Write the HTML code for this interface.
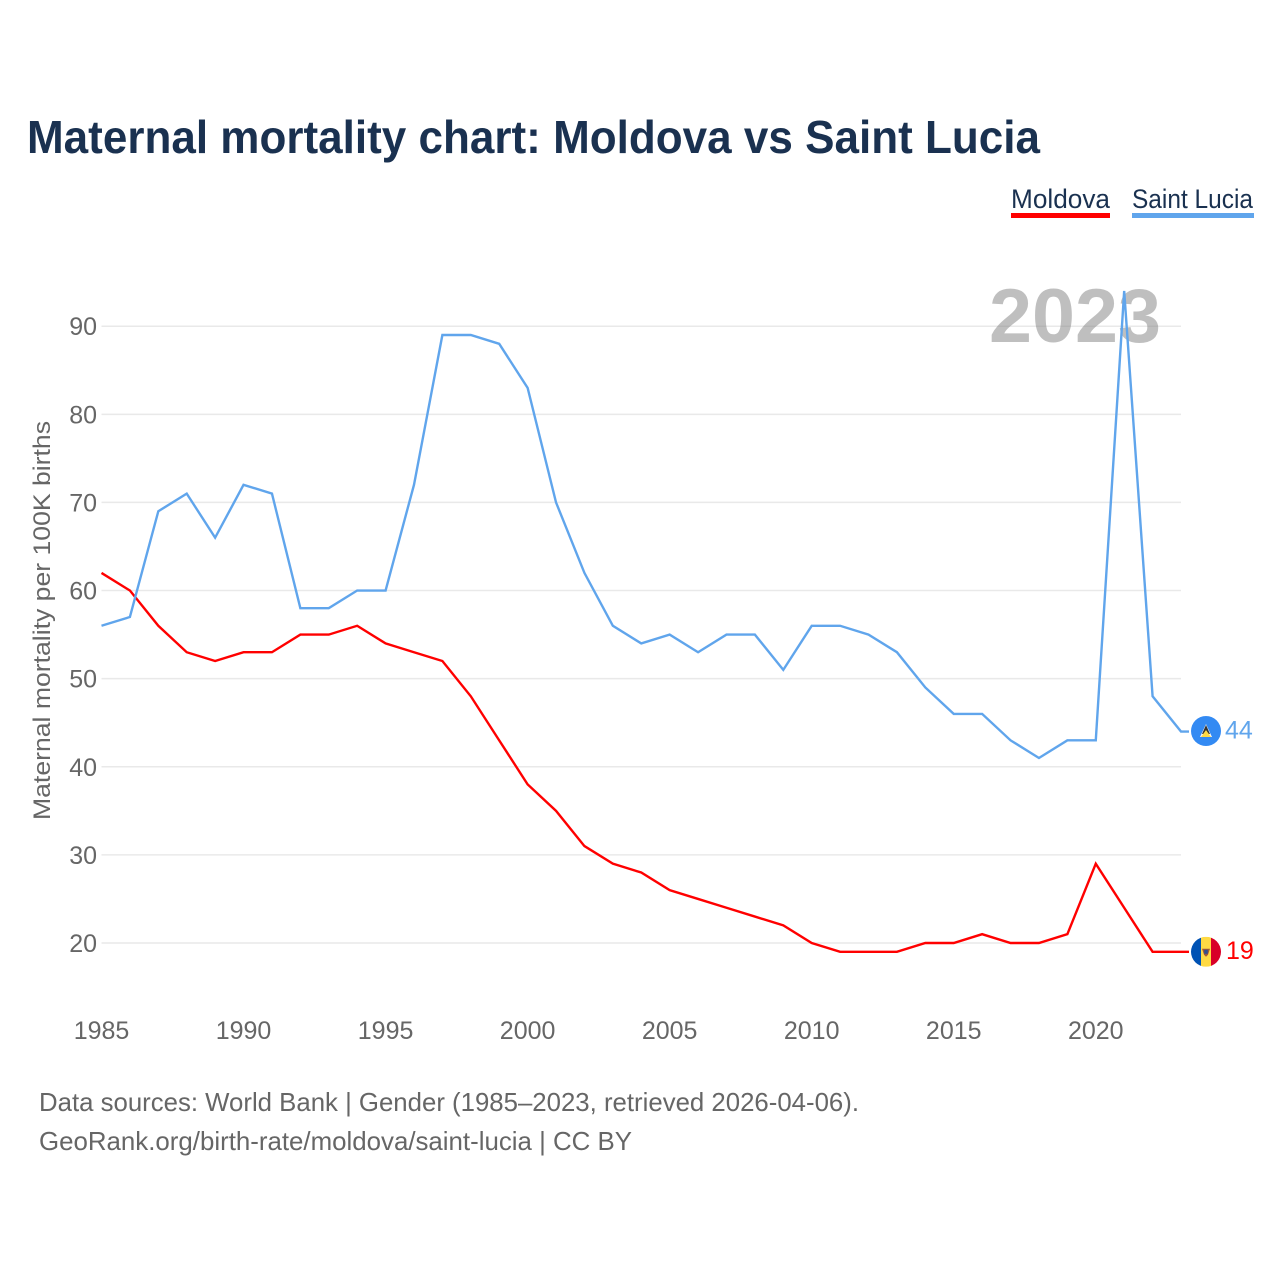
<!DOCTYPE html>
<html>
<head>
<meta charset="utf-8">
<style>
html,body{margin:0;padding:0;background:#fff}
svg{display:block}
text{font-family:"Liberation Sans",sans-serif}
</style>
</head>
<body>
<svg id="chart" xmlns="http://www.w3.org/2000/svg" width="1280" height="1280" viewBox="0 0 1280 1280">
  <rect width="1280" height="1280" fill="#fff"/>
  <defs>
    <clipPath id="flag-clip-lc"><circle cx="0" cy="0" r="15"/></clipPath>
    <clipPath id="flag-clip-md"><circle cx="0" cy="0" r="15"/></clipPath>
  </defs>
  <text x="27" y="153" font-size="46" font-weight="700" fill="#1a3150" textLength="1013" lengthAdjust="spacingAndGlyphs">Maternal mortality chart: Moldova vs Saint Lucia</text>
  <g>
    <text x="1011" y="208" font-size="27" fill="#1a3150" textLength="99" lengthAdjust="spacingAndGlyphs">Moldova</text>
    <rect x="1011" y="213" width="99" height="5" fill="#ff0000"/>
  </g>
  <g>
    <text x="1132" y="208" font-size="27" fill="#1a3150" textLength="121" lengthAdjust="spacingAndGlyphs">Saint Lucia</text>
    <rect x="1132" y="213" width="122" height="5" fill="#60a5ec"/>
  </g>
  <g id="grid"></g>
  <text x="989" y="342" font-size="76" font-weight="700" fill="#808080" fill-opacity="0.5" textLength="172" lengthAdjust="spacingAndGlyphs">2023</text>
  <g id="yticks"></g>
  <g id="xticks"></g>
  <text transform="translate(50,820) rotate(-90)" x="0" y="0" font-size="24" fill="#666" textLength="399" lengthAdjust="spacingAndGlyphs">Maternal mortality per 100K births</text>
  <g id="series"></g>
  <g id="flag-lc">
    <g clip-path="url(#flag-clip-lc)">
      <rect x="-15" y="-15" width="30" height="30" fill="#338af3"/>
      <polygon points="0,-7 6,6 -6,6" fill="#f4f4f4"/>
      <polygon points="0,-6 4,3 -4,3" fill="#333"/>
      <polygon points="0,-1 5,6 -5,6" fill="#ffda44"/>
    </g>
  </g>
  <g id="flag-md">
    <g clip-path="url(#flag-clip-md)">
      <rect x="-15" y="-15" width="10" height="30" fill="#0052b4"/>
      <rect x="-5" y="-15" width="10" height="30" fill="#ffda44"/>
      <rect x="5" y="-15" width="10" height="30" fill="#d80027"/>
      <polygon points="-4,-3 4,-3 2,3 0,5 -2,3" fill="#a2593a"/>
      <rect x="-1.8" y="-2" width="3.6" height="4" fill="#33508f"/>
    </g>
  </g>
  <text id="value-lc" font-size="25" fill="#60a5ec"></text>
  <text id="value-md" font-size="25" fill="#ff0000"></text>
  <text x="39" y="1111" font-size="26" fill="#666" textLength="820" lengthAdjust="spacingAndGlyphs">Data sources: World Bank | Gender (1985–2023, retrieved 2026-04-06).</text>
  <text x="39" y="1150" font-size="26" fill="#666" textLength="593" lengthAdjust="spacingAndGlyphs">GeoRank.org/birth-rate/moldova/saint-lucia | CC BY</text>
</svg>
<script>
var years = [1985,1986,1987,1988,1989,1990,1991,1992,1993,1994,1995,1996,1997,1998,1999,2000,2001,2002,2003,2004,2005,2006,2007,2008,2009,2010,2011,2012,2013,2014,2015,2016,2017,2018,2019,2020,2021,2022,2023];
var moldova = [62,60,56,53,52,53,53,55,55,56,54,53,52,48,43,38,35,31,29,28,26,25,24,23,22,20,19,19,19,20,20,21,20,20,21,29,24,19,19];
var saintLucia = [56,57,69,71,66,72,71,58,58,60,60,72,89,89,88,83,70,62,56,54,55,53,55,55,51,56,56,55,53,49,46,46,43,41,43,43,94,48,44];
var yTickValues = [20,30,40,50,60,70,80,90];
var xTickValues = [1985,1990,1995,2000,2005,2010,2015,2020];

var NS = 'http://www.w3.org/2000/svg';
function xScale(year) { return 101.5 + (year - 1985) * (1181 - 101.5) / (2023 - 1985); }
function yScale(value) { return 943 + (value - 20) * (326.2 - 943) / (90 - 20); }
function make(tag, parent) {
  var el = document.createElementNS(NS, tag);
  parent.appendChild(el);
  return el;
}
var gridGroup = document.getElementById('grid');
var yGroup = document.getElementById('yticks');
var xGroup = document.getElementById('xticks');
var seriesGroup = document.getElementById('series');

yTickValues.forEach(function (v) {
  var line = make('line', gridGroup);
  
  
  line.setAttribute('x1', xScale(1985));
  line.setAttribute('x2', xScale(2023));
  line.setAttribute('y1', yScale(v));
  line.setAttribute('y2', yScale(v));
  line.setAttribute('stroke', '#e9e9e9');
  line.setAttribute('stroke-width', '1.5');
  var label = make('text', yGroup);
  
  
  label.setAttribute('x', '97');
  label.setAttribute('y', yScale(v) + 9);
  label.setAttribute('text-anchor', 'end');
  label.setAttribute('font-size', '25');
  label.setAttribute('fill', '#666');
  label.textContent = v;
});

xTickValues.forEach(function (yr) {
  var label = make('text', xGroup);
  
  
  label.setAttribute('x', xScale(yr));
  label.setAttribute('y', '1039');
  label.setAttribute('text-anchor', 'middle');
  label.setAttribute('font-size', '25');
  label.setAttribute('fill', '#666');
  label.textContent = yr;
});

function pathFor(values) {
  var d = values.map(function (v, i) {
    return (i ? 'L' : 'M') + xScale(years[i]).toFixed(2) + ' ' + yScale(v).toFixed(2);
  }).join(' ');
  return d + ' h8';
}

var lineMoldova = make('path', seriesGroup);


lineMoldova.setAttribute('d', pathFor(moldova));
lineMoldova.setAttribute('fill', 'none');
lineMoldova.setAttribute('stroke', '#ff0000');
lineMoldova.setAttribute('stroke-width', '2.4');

var lineLucia = make('path', seriesGroup);


lineLucia.setAttribute('d', pathFor(saintLucia));
lineLucia.setAttribute('fill', 'none');
lineLucia.setAttribute('stroke', '#60a5ec');
lineLucia.setAttribute('stroke-width', '2.4');

var lastLucia = saintLucia[saintLucia.length - 1];
var lastMoldova = moldova[moldova.length - 1];
var lastYear = years[years.length - 1];
document.getElementById('flag-lc').setAttribute('transform', 'translate(' + (xScale(lastYear) + 25) + ',' + (yScale(lastLucia) - 0.5) + ')');
document.getElementById('flag-md').setAttribute('transform', 'translate(' + (xScale(lastYear) + 25) + ',' + yScale(lastMoldova) + ')');
var valueLucia = document.getElementById('value-lc');
valueLucia.setAttribute('x', xScale(lastYear) + 44);
valueLucia.setAttribute('y', yScale(lastLucia) + 7);
valueLucia.textContent = lastLucia;
var valueMoldova = document.getElementById('value-md');
valueMoldova.setAttribute('x', xScale(lastYear) + 45);
valueMoldova.setAttribute('y', yScale(lastMoldova) + 7);
valueMoldova.textContent = lastMoldova;
</script>
</body>
</html>
